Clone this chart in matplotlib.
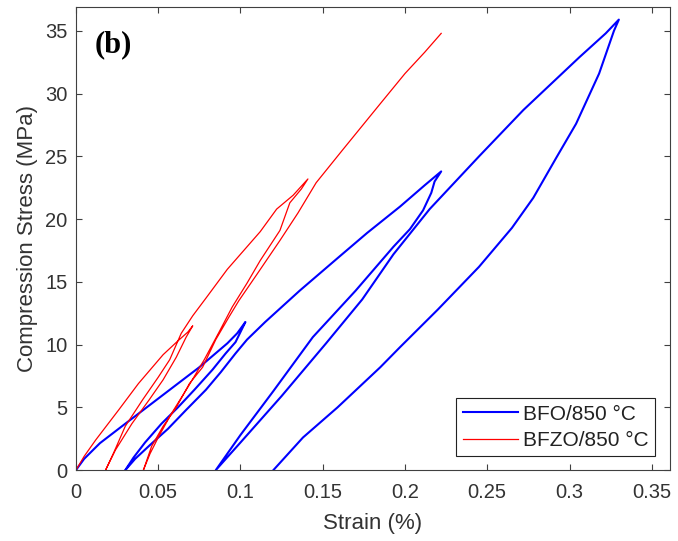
import numpy as np
import matplotlib
matplotlib.use('Agg')
import matplotlib.pyplot as plt

plt.rcParams['font.family'] = ['Liberation Sans', 'DejaVu Sans']

# BFO/850 °C : three load/unload cycles (strain %, stress MPa)
bfo_load1_x = [0, 0.005, 0.0146, 0.03, 0.041, 0.057, 0.075, 0.092, 0.098, 0.103]
bfo_load1_y = [0, 0.9, 2.15, 3.7, 4.8, 6.4, 8.2, 10.1, 10.9, 11.8]
bfo_unld1_x = [0.103, 0.100, 0.097, 0.091, 0.083, 0.072, 0.062, 0.052, 0.042, 0.035, 0.03]
bfo_unld1_y = [11.8, 11.0, 10.2, 9.3, 8.0, 6.4, 5.0, 3.7, 2.2, 1.0, 0]
bfo_load2_x = [0.03, 0.036, 0.045, 0.056, 0.067, 0.079, 0.088, 0.097, 0.104, 0.115,
               0.136, 0.16, 0.177, 0.197, 0.212, 0.222]
bfo_load2_y = [0, 0.9, 2.0, 3.3, 4.8, 6.4, 7.8, 9.3, 10.4, 11.8,
               14.3, 17.0, 18.9, 21.0, 22.7, 23.8]
bfo_unld2_x = [0.222, 0.218, 0.216, 0.211, 0.203, 0.193, 0.17, 0.144, 0.12, 0.1, 0.085]
bfo_unld2_y = [23.8, 23.0, 22.1, 20.7, 19.2, 17.8, 14.3, 10.6, 6.3, 2.8, 0]
bfo_load3_x = [0.085, 0.1, 0.125, 0.152, 0.174, 0.193, 0.215, 0.245, 0.272, 0.306, 0.322, 0.33]
bfo_load3_y = [0, 2.2, 5.9, 10.1, 13.6, 17.2, 20.8, 25.0, 28.7, 32.9, 34.8, 35.9]
bfo_unld3_x = [0.33, 0.327, 0.318, 0.304, 0.292, 0.278, 0.265, 0.245, 0.22, 0.197,
               0.185, 0.159, 0.138, 0.12]
bfo_unld3_y = [35.9, 35.0, 31.6, 27.6, 24.9, 21.7, 19.3, 16.2, 12.8, 9.8,
               8.2, 5.0, 2.6, 0]

# BFZO/850 °C
bfzo_load1_x = [0, 0.005, 0.012, 0.026, 0.038, 0.053, 0.062, 0.068, 0.071]
bfzo_load1_y = [0, 1.1, 2.4, 4.8, 6.9, 9.2, 10.3, 11.0, 11.5]
bfzo_unld1_x = [0.071, 0.067, 0.061, 0.053, 0.0445, 0.034, 0.024, 0.021, 0.018]
bfzo_unld1_y = [11.5, 10.6, 9.0, 7.2, 5.6, 3.7, 1.6, 0.8, 0]
bfzo_load2_x = [0.018, 0.023, 0.030, 0.0405, 0.05, 0.057, 0.064, 0.071, 0.079, 0.092,
                0.102, 0.112, 0.122, 0.132, 0.141]
bfzo_load2_y = [0, 1.4, 3.5, 5.6, 7.4, 8.8, 10.9, 12.3, 13.7, 16.0,
                17.5, 19.0, 20.8, 21.9, 23.2]
bfzo_unld2_x = [0.141, 0.137, 0.13, 0.124, 0.112, 0.104, 0.095, 0.087, 0.078, 0.068,
                0.058, 0.05, 0.045, 0.041]
bfzo_unld2_y = [23.2, 22.4, 21.3, 19.1, 16.7, 14.9, 13.0, 11.0, 8.8, 6.6,
                4.5, 2.6, 1.3, 0]
bfzo_load3_x = [0.041, 0.046, 0.053, 0.061, 0.069, 0.077, 0.085, 0.093, 0.099, 0.11,
                0.124, 0.135, 0.146, 0.162, 0.185, 0.2, 0.212, 0.222]
bfzo_load3_y = [0, 1.9, 3.5, 5.0, 6.9, 8.2, 10.4, 12.2, 13.5, 15.6,
                18.3, 20.5, 22.9, 25.5, 29.2, 31.6, 33.3, 34.8]

x_ticks = [0, 0.05, 0.1, 0.15, 0.2, 0.25, 0.3, 0.35]
x_tick_labels = ['0', '0.05', '0.1', '0.15', '0.2', '0.25', '0.3', '0.35']
y_ticks = [0, 5, 10, 15, 20, 25, 30, 35]

bfo_x = bfo_load1_x + bfo_unld1_x + bfo_load2_x + bfo_unld2_x + bfo_load3_x + bfo_unld3_x
bfo_y = bfo_load1_y + bfo_unld1_y + bfo_load2_y + bfo_unld2_y + bfo_load3_y + bfo_unld3_y
bfzo_x = bfzo_load1_x + bfzo_unld1_x + bfzo_load2_x + bfzo_unld2_x + bfzo_load3_x
bfzo_y = bfzo_load1_y + bfzo_unld1_y + bfzo_load2_y + bfzo_unld2_y + bfzo_load3_y

fig = plt.figure(figsize=(6.78, 5.41), dpi=100)
ax = fig.add_axes([0.112, 0.131, 0.876, 0.856])

ax.plot(bfo_x, bfo_y, color='#0000ff', lw=1.5, label='BFO/850 °C')
ax.plot(bfzo_x, bfzo_y, color='#ff0000', lw=0.9, label='BFZO/850 °C')

ax.set_xlim(0, 0.361)
ax.set_ylim(0, 36.9)
ax.set_xticks(x_ticks)
ax.set_xticklabels(x_tick_labels)
ax.set_yticks(y_ticks)

grey = '#404040'
for s in ax.spines.values():
    s.set_color(grey)
    s.set_linewidth(0.8)
ax.tick_params(direction='in', length=4, width=0.8, color=grey, labelcolor='#333333',
               labelsize=14.5, top=True, right=True)
ax.tick_params(axis='x', pad=9)
ax.tick_params(axis='y', pad=6)

ax.set_xlabel('Strain (%)', fontsize=16, color='#333333', labelpad=8)
ax.set_ylabel('Compression Stress (MPa)', fontsize=16, color='#333333', labelpad=5)

ax.text(0.032, 0.918, '(b)', transform=ax.transAxes, fontsize=22, fontweight='bold',
        family='Liberation Serif', va='center', ha='left')

leg = ax.legend(loc='lower right', bbox_to_anchor=(0.975, 0.03), fontsize=15,
                frameon=True, fancybox=False, framealpha=1, edgecolor='#222222',
                handlelength=2.65, handletextpad=0.25, borderpad=0.3, labelspacing=0.35,
                borderaxespad=0)
leg.get_frame().set_linewidth(0.8)
for t in leg.get_texts():
    t.set_color('#222222')

plt.savefig('out.png', dpi=100)
